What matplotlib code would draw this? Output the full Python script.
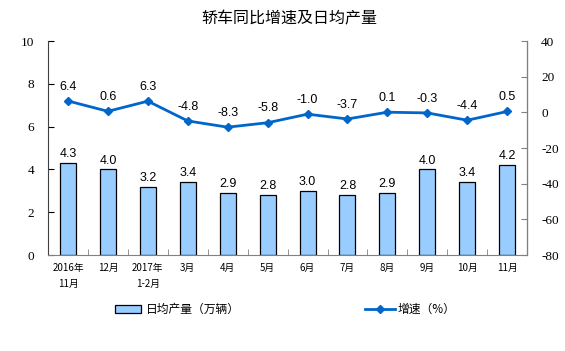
import numpy as np
import matplotlib.pyplot as plt
from matplotlib.patches import Patch
from matplotlib.lines import Line2D

plt.rcParams['font.family'] = ['Noto Sans CJK SC', 'DejaVu Sans']

# 数据
months = ['2016年\n11月', '12月', '2017年\n1-2月', '3月', '4月', '5月',
          '6月', '7月', '8月', '9月', '10月', '11月']
daily_output = [4.3, 4.0, 3.2, 3.4, 2.9, 2.8, 3.0, 2.8, 2.9, 4.0, 3.4, 4.2]
growth = [6.4, 0.6, 6.3, -4.8, -8.3, -5.8, -1.0, -3.7, 0.1, -0.3, -4.4, 0.5]
left_ticks = [0, 2, 4, 6, 8, 10]
right_ticks = [-80, -60, -40, -20, 0, 20, 40]

bar_color = '#99CCFF'
line_color = '#0066CC'
axis_gray = '#808080'

fig = plt.figure(figsize=(5.65, 3.51), dpi=100)
ax = fig.add_axes([0.085, 0.2735, 0.848, 0.6095])
ax2 = ax.twinx()

x = np.arange(len(months))

# 柱状图
ax.bar(x, daily_output, width=0.4, color=bar_color, edgecolor='black',
       linewidth=0.9, zorder=2)
for xi, v in zip(x, daily_output):
    ax.annotate(f'{v:.1f}', (xi, v), xytext=(0, 2), textcoords='offset points',
                ha='center', va='bottom', fontsize=9, family='Liberation Sans')

ax.set_xlim(-0.5, len(months) - 0.5)
ax.set_ylim(0, 10)
ax.set_yticks(left_ticks)
ax.set_yticklabels([str(t) for t in left_ticks], fontsize=9.5, family='Liberation Serif')

# 折线
ax2.plot(x, growth, color=line_color, lw=2, marker='D', ms=4.5, zorder=3)
for xi, v in zip(x, growth):
    ax2.annotate(f'{v:.1f}', (xi, v), xytext=(0, 6), textcoords='offset points',
                 ha='center', va='bottom', fontsize=9, family='Liberation Sans')
ax2.set_ylim(-80, 40)
ax2.set_yticks(right_ticks)
ax2.set_yticklabels([str(t) for t in right_ticks], fontsize=9.5, family='Liberation Serif')

# 坐标轴样式
ax.set_xticks(x)
ax.set_xticklabels(months, fontsize=7, linespacing=1.7)
ax.set_xticks(np.arange(-0.5, len(months), 1), minor=True)
ax.tick_params(axis='x', which='major', length=0, pad=6)
ax.tick_params(axis='x', which='minor', direction='in', length=4, color=axis_gray)
ax.tick_params(axis='y', direction='in', length=4, pad=10)
ax2.tick_params(axis='y', direction='in', length=4, pad=10, color=axis_gray)

for a in (ax, ax2):
    a.spines['top'].set_visible(False)
ax.spines['left'].set_color('#404040')
ax.spines['bottom'].set_color(axis_gray)
ax2.spines['right'].set_color(axis_gray)
ax2.spines['left'].set_visible(False)
ax2.spines['bottom'].set_visible(False)

fig.text(0.513, 0.945, '轿车同比增速及日均产量', ha='center', va='center',
         fontsize=11.5, fontweight='medium')

# 图例
h1 = Patch(facecolor=bar_color, edgecolor='black', linewidth=0.9)
h2 = Line2D([], [], color=line_color, lw=2, marker='D', ms=4.5)
fig.legend([h1], ['日均产量（万辆）'], loc='center left', bbox_to_anchor=(0.185, 0.118),
           frameon=False, fontsize=8.5, handlelength=2.2, handletextpad=0.4)
fig.legend([h2], ['增速（%）'], loc='center left', bbox_to_anchor=(0.628, 0.118),
           frameon=False, fontsize=8.5, handlelength=2.5, handletextpad=0.2)

fig.savefig('out.png', dpi=100)
